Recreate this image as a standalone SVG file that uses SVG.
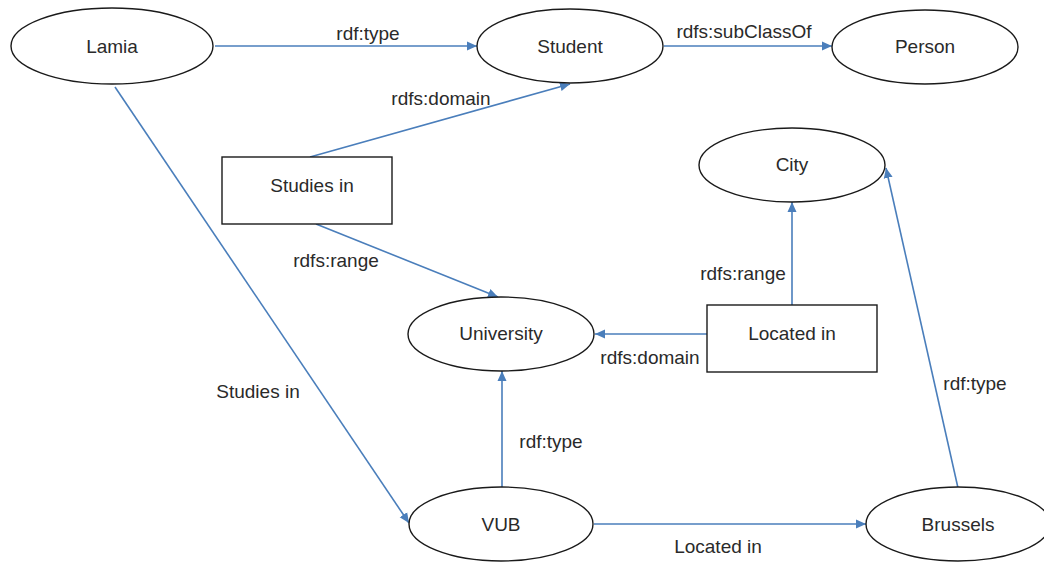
<svg xmlns="http://www.w3.org/2000/svg" width="1044" height="562" viewBox="0 0 1044 562">
<style>
.n{fill:#fff;stroke:#1a1a1a;stroke-width:1.4}
.t{font-family:"Liberation Sans",Arial,sans-serif;font-size:19px;fill:#2a2a2a;text-anchor:middle;dominant-baseline:central}
.e{stroke:#4a7ebb;stroke-width:1.6;fill:none;marker-end:url(#ah)}
</style>
<defs>
<marker id="ah" markerUnits="userSpaceOnUse" markerWidth="12" markerHeight="10" refX="10" refY="5" orient="auto">
<path d="M0,0.5 L10,5 L0,9.5 Z" fill="#4a7ebb"/>
</marker>
</defs>
<rect width="1044" height="562" fill="#fff"/>
<g id="connectors">
<line class="e" x1="215" y1="46" x2="477" y2="46"/>
<line class="e" x1="664" y1="46" x2="832" y2="46"/>
<line class="e" x1="310" y1="157" x2="570" y2="84"/>
<line class="e" x1="316" y1="224" x2="498" y2="297"/>
<line class="e" x1="115" y1="87" x2="409" y2="523"/>
<line class="e" x1="707" y1="334" x2="595" y2="334"/>
<line class="e" x1="792" y1="305" x2="792" y2="202"/>
<line class="e" x1="502" y1="487" x2="502" y2="371"/>
<line class="e" x1="594" y1="524" x2="866" y2="524"/>
<line class="e" x1="958" y1="488" x2="886" y2="168"/>
<text class="t" x="368" y="33">rdf:type</text>
<text class="t" x="744" y="31">rdfs:subClassOf</text>
<text class="t" x="441" y="98">rdfs:domain</text>
<text class="t" x="336" y="260">rdfs:range</text>
<text class="t" x="743" y="273">rdfs:range</text>
<text class="t" x="650" y="357">rdfs:domain</text>
<text class="t" x="258" y="391">Studies in</text>
<text class="t" x="551" y="441">rdf:type</text>
<text class="t" x="718" y="546">Located in</text>
<text class="t" x="975" y="383">rdf:type</text>
</g>
<g id="lamia"><ellipse class="n" cx="112" cy="46" rx="101" ry="38"/><text class="t" x="112" y="46">Lamia</text></g>
<g id="student"><ellipse class="n" cx="570" cy="46" rx="93" ry="37"/><text class="t" x="570" y="46">Student</text></g>
<g id="person"><ellipse class="n" cx="925" cy="47" rx="93" ry="37"/><text class="t" x="925" y="46">Person</text></g>
<g id="city"><ellipse class="n" cx="792" cy="165" rx="93" ry="37"/><text class="t" x="792" y="164">City</text></g>
<g id="studies-in"><rect class="n" x="222" y="157" width="170" height="67"/><text class="t" x="312" y="185">Studies in</text></g>
<g id="university"><ellipse class="n" cx="501" cy="334" rx="93" ry="37"/><text class="t" x="501" y="333">University</text></g>
<g id="located-in"><rect class="n" x="707" y="305" width="170" height="67"/><text class="t" x="792" y="333">Located in</text></g>
<g id="vub"><ellipse class="n" cx="501" cy="524" rx="92" ry="37"/><text class="t" x="501" y="524">VUB</text></g>
<g id="brussels"><ellipse class="n" cx="958" cy="524" rx="92" ry="37"/><text class="t" x="958" y="524">Brussels</text></g>
</svg>
